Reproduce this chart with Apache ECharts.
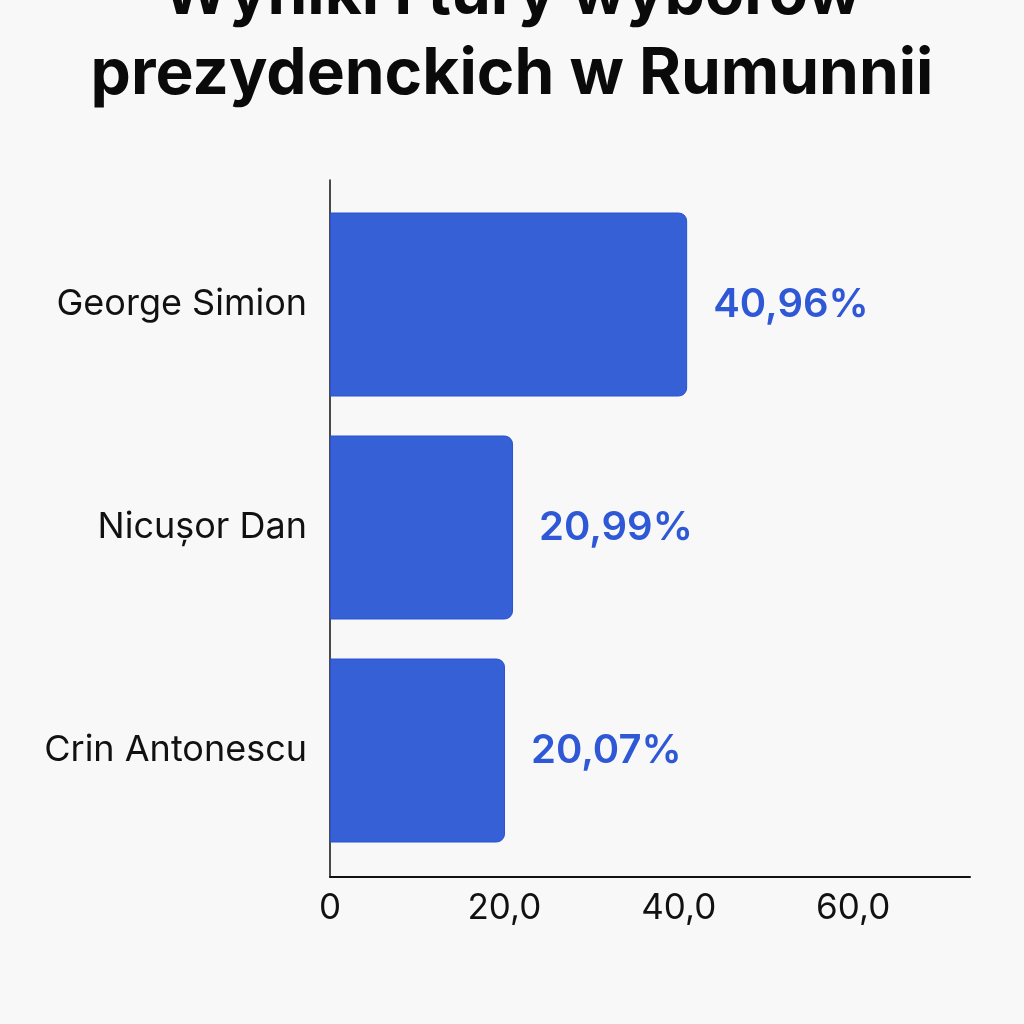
<!DOCTYPE html>
<html>
<head>
<meta charset="utf-8">
<title>Wyniki I tury wyborów prezydenckich w Rumunnii</title>
<script src="https://cdn.jsdelivr.net/npm/echarts@6/dist/echarts.min.js"></script>
<style>
  html, body { margin: 0; padding: 0; background: #f8f8f8; }
  #chart { width: 1024px; height: 1024px; }
</style>
</head>
<body>
<div id="chart"></div>
<script>
// Candidates, top to bottom
const candidates = ['George Simion', 'Nicușor Dan', 'Crin Antonescu'];
// Share of the vote, percent
const voteShare = [40.96, 20.99, 20.07];
// Value axis ticks
const tickValues = [0, 20, 40, 60];

const FONT = 'Inter, Roboto, "Noto Sans", sans-serif';
const AXIS_MAX = 73.4;
const fmtPct = v => v.toFixed(2).replace('.', ',') + '%';
const fmtTick = v => (v === 0 ? '0' : v.toFixed(1).replace('.', ','));

const chart = echarts.init(document.getElementById('chart'), null, { renderer: 'canvas' });

chart.setOption({
  backgroundColor: '#f8f8f8',
  animation: false,
  title: {
    text: 'Wyniki I tury wyborów\nprezydenckich w Rumunnii',
    left: 'center',
    top: -50,
    textStyle: {
      fontFamily: FONT,
      fontSize: 64,
      fontWeight: 700,
      color: '#0a0a0a',
      lineHeight: 80
    }
  },
  grid: [
    // bars
    { left: 330, right: 54, top: 193, bottom: 1024 - 862, containLabel: false },
    // axis frame (lines and tick labels)
    { left: 330, right: 54, top: 180, bottom: 1024 - 877, containLabel: false }
  ],
  xAxis: [
    {
      gridIndex: 0, type: 'value', min: 0, max: AXIS_MAX, interval: 20,
      axisLine: { show: false }, axisTick: { show: false },
      axisLabel: { show: false }, splitLine: { show: false }
    },
    {
      gridIndex: 1, type: 'value', min: 0, max: AXIS_MAX, interval: 20,
      axisLine: { show: true, lineStyle: { color: '#111', width: 2 } },
      axisTick: { show: false },
      splitLine: { show: false },
      axisLabel: {
        show: true,
        showMaxLabel: false,
        margin: 14,
        fontFamily: FONT,
        fontSize: 35,
        color: '#111',
        formatter: v => (tickValues.includes(v) ? fmtTick(v) : '')
      }
    }
  ],
  yAxis: [
    {
      gridIndex: 0, type: 'category', data: candidates, inverse: true,
      axisLine: { show: false }, axisTick: { show: false },
      axisLabel: {
        margin: 23,
        fontFamily: FONT,
        fontSize: 36,
        color: '#111'
      }
    },
    {
      gridIndex: 1, type: 'category', data: candidates, inverse: true,
      axisLine: { show: true, lineStyle: { color: '#111', width: 1.5 } },
      axisTick: { show: false },
      axisLabel: { show: false }
    }
  ],
  series: [
    {
      type: 'bar',
      xAxisIndex: 0,
      yAxisIndex: 0,
      data: voteShare,
      barWidth: 184,
      itemStyle: {
        color: '#3661d6',
        borderColor: '#2a52d2',
        borderWidth: 1,
        borderRadius: [0, 8, 8, 0]
      },
      label: {
        show: true,
        position: 'right',
        distance: 26,
        fontFamily: FONT,
        fontSize: 40,
        fontWeight: 600,
        color: '#2f58d6',
        formatter: p => fmtPct(p.value)
      }
    }
  ]
});
</script>
</body>
</html>
